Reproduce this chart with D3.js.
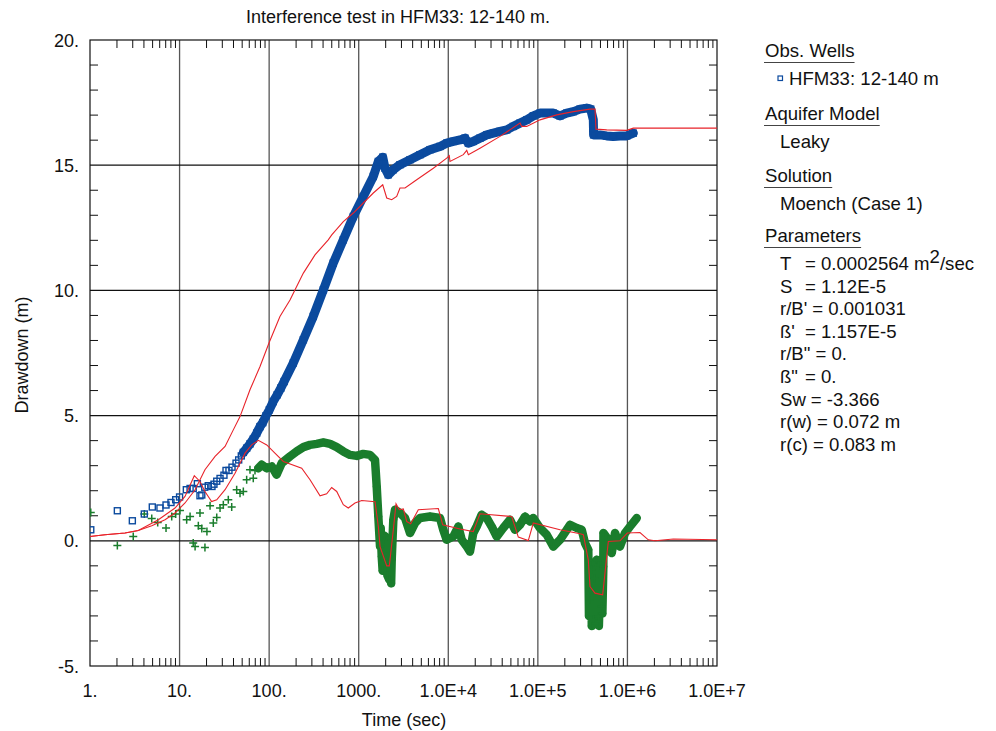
<!DOCTYPE html>
<html><head><meta charset="utf-8">
<script src="https://cdn.jsdelivr.net/npm/d3@7"></script>
<style>
html,body{margin:0;padding:0;background:#fff;}
svg{display:block;font-family:"Liberation Sans",Arial,sans-serif;}
</style></head>
<body>
<svg id="chart" width="996" height="731"></svg>
<script>
// ---------- DATA ----------
const title = "Interference test in HFM33: 12-140 m.";
const xLabel = "Time (sec)";
const yLabel = "Drawdown (m)";
const xTicks = [1, 10, 100, 1000, 1e4, 1e5, 1e6, 1e7];
const xTickLabels = ["1.", "10.", "100.", "1000.", "1.0E+4", "1.0E+5", "1.0E+6", "1.0E+7"];
const yTicks = [-5, 0, 5, 10, 15, 20];
const yTickLabels = ["-5.", "0.", "5.", "10.", "15.", "20."];

// observed drawdown (blue squares)
const obsTime = [1.02,2.02,2.97,4.04,4.96,6.04,7.06,8.02,9.05,10.0,11.9,13.1,14.2,15.8,16.9,17.7,19.1,20.9,23.0,24.2,26.0,28.3,31.3,33.0,35.6,38.5,42.7,45.7,48.9,51.5,56.1,61.1,66.5,72.6,79.1,84.8,92.2,100.5,111,123,135,147,186,241,311,403,520,673,871,1125,1455,1656,1854,1967,2140,2434,2890,3740,4830,6250,8090,9600,11380,13520,15380,16750,19020,22590,26850,31840,37780,44870,53210,63210,75150,88950,105700,125600,148900,176700,209900,248900,295800,350900,389000,416000,419000,494000,587000,695000,826000,982000,1164000];
const obsDraw = [0.44,1.20,0.80,1.07,1.35,1.31,1.43,1.53,1.64,1.75,2.04,2.09,2.09,2.28,1.80,1.83,2.14,2.20,2.17,2.26,2.38,2.49,2.62,2.81,2.81,2.94,3.10,3.23,3.39,3.53,3.70,3.87,4.06,4.30,4.56,4.72,4.99,5.23,5.56,5.83,6.10,6.36,7.10,8.03,8.96,10.02,11.09,12.02,12.95,13.75,14.55,15.15,15.32,14.88,14.62,14.82,15.02,15.22,15.42,15.62,15.75,15.88,15.95,16.01,16.08,15.88,15.95,16.08,16.21,16.28,16.35,16.41,16.55,16.68,16.81,16.97,17.08,17.08,17.08,16.97,17.08,17.14,17.24,17.28,17.24,16.81,16.21,16.21,16.17,16.15,16.17,16.17,16.28];

// observed derivative (green plus)
const derTime = [1.02,2.02,3.04,4.04,4.89,5.70,7.06,8.17,9.05,10.1,12.0,13.1,14.2,14.9,16.2,16.9,17.7,19.2,20.2,21.9,23.8,26.0,28.3,30.8,35.0,38.2,43.4,47.3,51.5,56.1,61.1,66.5,69.5,75.7,82.6,94.0,107,121,138,171,203,241,286,340,403,478,568,673,800,950,1125,1337,1521,1588,1656,1730,1760,1807,1850,1883,1950,2055,2100,2198,2250,2300,2335,2434,2543,2890,3289,3740,4250,4830,6250,8090,8790,9600,11380,12940,14130,16070,17470,19020,20750,23600,26850,30530,34750,41110,48870,55590,63210,71910,81700,88950,105700,125600,148900,176700,209900,228600,271600,308800,335900,365600,372000,381900,385000,397000,400000,416000,430000,445000,454000,460000,473000,480000,500000,516000,525000,538000,540000,612000,668000,727000,826000,940000,1069000,1270000];
const derDraw = [1.13,-0.19,0.17,1.07,0.89,0.73,0.51,0.97,1.07,1.21,0.84,0.97,-0.09,-0.23,0.60,1.11,0.49,-0.27,0.37,1.40,0.71,0.93,1.31,1.44,1.64,1.35,2.04,1.90,1.97,2.44,2.84,2.50,2.81,2.90,3.04,2.90,2.97,2.64,3.10,3.37,3.57,3.74,3.83,3.87,3.93,3.87,3.74,3.57,3.43,3.39,3.47,3.43,3.23,2.17,0.97,-0.23,0.50,-0.63,-1.20,0.04,0.20,-0.89,-1.40,-1.56,-0.50,-1.70,-0.76,0.84,1.24,1.11,0.91,0.31,0.71,0.91,0.97,0.91,0.44,0.04,0.17,0.57,0.04,-0.23,-0.43,0.31,0.57,1.04,0.91,0.57,0.17,0.51,0.84,0.44,0.64,0.97,0.77,0.91,0.51,0.24,-0.23,0.04,0.44,0.64,0.51,0.44,-0.09,-0.36,-3.00,-2.36,-1.00,-1.16,-3.40,-3.15,-1.50,-3.30,-0.76,-0.80,-3.02,-3.40,-1.00,-2.62,-2.90,-1.03,0.31,0.04,-0.49,0.31,-0.23,0.31,0.57,0.91];

// model drawdown (red line)
const modTime = [1,1.47,2.46,3.46,4.89,6.88,8.89,11.5,14.9,19.2,24.9,32.2,39.8,47.3,61.1,79.1,99.6,132,171,194,241,325,457,500,673,871,1125,1455,1854,2055,2335,2655,2890,3289,4440,6810,9600,10260,10450,14720,16070,16750,22590,37780,63210,66070,75150,105700,162300,248900,381900,434700,445700,587000,982000,1164000,1e7];
const modDraw = [0.17,0.24,0.31,0.41,0.60,0.84,1.11,1.51,2.04,2.84,3.37,3.77,4.43,4.96,6.03,6.96,7.90,8.96,9.62,10.02,10.69,11.42,12.02,12.22,12.75,13.09,13.49,13.89,14.22,13.69,13.62,13.75,14.09,14.09,14.42,14.88,15.28,15.38,15.15,15.42,15.59,15.42,15.68,16.15,16.68,16.55,16.55,16.81,17.01,17.14,17.24,17.24,16.44,16.41,16.39,16.48,16.48];

// model derivative (red line)
const mdTime = [1,1.47,2.46,3.46,5.80,8.89,11.5,14.6,16.9,19.2,22.8,26.0,32.2,41.6,53.8,63.8,75.7,94.0,116,144,231,286,370,439,499,568,673,765,909,1080,1521,1656,1730,2055,2198,2434,2609,2840,3148,3436,3804,4627,7740,8670,13520,19020,22590,51050,60510,78200,88950,176700,295800,322100,365600,381900,434700,529600,587000,612000,826000,997600,1380000,1710000,2033000,3251000,1e7];
const mdDraw = [0.17,0.24,0.31,0.41,0.84,1.31,1.77,2.60,2.37,1.97,1.57,1.64,2.04,2.70,3.50,3.83,4.01,3.83,3.50,3.17,2.90,2.44,1.80,1.88,2.13,1.97,1.44,1.31,1.51,1.61,1.56,0.57,-0.23,-1.00,-1.00,0.44,1.48,1.24,1.27,0.77,0.68,1.24,1.29,0.64,0.47,0.37,1.08,0.97,0.15,0.01,0.71,0.44,0.28,0.24,-0.76,-1.83,-2.09,-2.16,-0.63,-0.03,0.0,0.31,0.33,0.04,0.0,0.07,0.04];

// legend
const wellName = "HFM33: 12-140 m";
const aquiferModel = "Leaky";
const solution = "Moench (Case 1)";
const paramNames = ["T", "S", "r/B'", "ß'", "r/B\"", "ß\"", "Sw", "r(w)", "r(c)"];
const paramValues = ["= 0.0002564 m", "= 1.12E-5", "= 0.001031", "= 1.157E-5", "= 0.", "= 0.", "= -3.366", "= 0.072 m", "= 0.083 m"];

// ---------- DRAW ----------
const W = 996, H = 731;
const m = {left: 90, top: 40, right: 279, bottom: 65};
const pw = W - m.left - m.right, ph = H - m.top - m.bottom;
const BLUE = "#0b4a9e", GREEN = "#1a7d2c", RED = "#e8232a";
const FS = 18, LFS = 18.6;

const svg = d3.select("#chart");
const x = d3.scaleLog().domain([1, 1e7]).range([m.left, m.left + pw]);
const y = d3.scaleLinear().domain([-5, 20]).range([m.top + ph, m.top]);

const g = svg.append("g");

svg.append("defs").append("clipPath").attr("id", "clip")
  .append("rect").attr("x", m.left).attr("y", m.top).attr("width", pw).attr("height", ph);

// grid
g.selectAll("line.vg").data(xTicks.slice(1, -1)).join("line")
  .attr("x1", d => x(d)).attr("x2", d => x(d))
  .attr("y1", m.top).attr("y2", m.top + ph)
  .attr("stroke", "#555").attr("stroke-width", 1.3);
g.selectAll("line.hg").data(yTicks.slice(1, -1)).join("line")
  .attr("y1", d => y(d)).attr("y2", d => y(d))
  .attr("x1", m.left).attr("x2", m.left + pw)
  .attr("stroke", "#111").attr("stroke-width", 1.3);

// minor ticks
const minorX = [];
for (let e = 0; e < 7; e++) for (let k = 2; k <= 9; k++) minorX.push(k * Math.pow(10, e));
const tl = 8;
g.selectAll("line.mxb").data(minorX).join("line")
  .attr("x1", d => x(d)).attr("x2", d => x(d))
  .attr("y1", m.top + ph).attr("y2", m.top + ph - tl).attr("stroke", "#111").attr("stroke-width", 1);
g.selectAll("line.mxt").data(minorX).join("line")
  .attr("x1", d => x(d)).attr("x2", d => x(d))
  .attr("y1", m.top).attr("y2", m.top + tl).attr("stroke", "#111").attr("stroke-width", 1);
const minorY = d3.range(-4, 20).filter(v => v % 5 !== 0);
g.selectAll("line.myl").data(minorY).join("line")
  .attr("y1", d => y(d)).attr("y2", d => y(d))
  .attr("x1", m.left).attr("x2", m.left + tl).attr("stroke", "#111").attr("stroke-width", 1);
g.selectAll("line.myr").data(minorY).join("line")
  .attr("y1", d => y(d)).attr("y2", d => y(d))
  .attr("x1", m.left + pw).attr("x2", m.left + pw - tl).attr("stroke", "#111").attr("stroke-width", 1);

// frame
g.append("rect").attr("x", m.left).attr("y", m.top).attr("width", pw).attr("height", ph)
  .attr("fill", "none").attr("stroke", "#111").attr("stroke-width", 1.2);

// tick labels
g.selectAll("text.xl").data(xTicks).join("text")
  .attr("x", d => x(d)).attr("y", m.top + ph + 31)
  .attr("text-anchor", "middle").attr("font-size", FS).attr("fill", "#111")
  .text((d, i) => xTickLabels[i]);
g.selectAll("text.yl").data(yTicks).join("text")
  .attr("x", m.left - 11).attr("y", d => y(d) + 6.5)
  .attr("text-anchor", "end").attr("font-size", FS).attr("fill", "#111")
  .text((d, i) => yTickLabels[i]);

// titles
svg.append("text").attr("x", 398).attr("y", 23).attr("text-anchor", "middle")
  .attr("font-size", FS).attr("fill", "#111").text(title);
svg.append("text").attr("x", 404).attr("y", 726).attr("text-anchor", "middle")
  .attr("font-size", FS).attr("fill", "#111").text(xLabel);
svg.append("text").attr("transform", "translate(28,355) rotate(-90)").attr("text-anchor", "middle")
  .attr("font-size", FS).attr("fill", "#111").text(yLabel);

// data layer
const plot = svg.append("g").attr("clip-path", "url(#clip)");
const obs = obsTime.map((t, i) => ({t, s: obsDraw[i]}));
const der = derTime.map((t, i) => ({t, s: derDraw[i]}));
const mod = modTime.map((t, i) => ({t, s: modDraw[i]}));
const md = mdTime.map((t, i) => ({t, s: mdDraw[i]}));
const line = d3.line().x(d => x(d.t)).y(d => y(d.s));

// dense observation runs (overlapping markers form continuous bands)
plot.append("path").datum(der.filter(d => d.t >= 75))
  .attr("d", line).attr("fill", "none").attr("stroke", GREEN)
  .attr("stroke-width", 8.5).attr("stroke-linejoin", "round").attr("stroke-linecap", "round");
plot.append("path").datum(obs.filter(d => d.t >= 50))
  .attr("d", line).attr("fill", "none").attr("stroke", BLUE)
  .attr("stroke-width", 9).attr("stroke-linejoin", "round").attr("stroke-linecap", "round");

// green plus markers
const ps = 4;
plot.selectAll("path.plus").data(der).join("path")
  .attr("d", d => `M${x(d.t) - ps},${y(d.s)}H${x(d.t) + ps}M${x(d.t)},${y(d.s) - ps}V${y(d.s) + ps}`)
  .attr("stroke", GREEN).attr("stroke-width", 1.5).attr("fill", "none");

// blue square markers
const sq = 6;
plot.selectAll("rect.sq").data(obs).join("rect")
  .attr("x", d => x(d.t) - sq / 2).attr("y", d => y(d.s) - sq / 2)
  .attr("width", sq).attr("height", sq)
  .attr("fill", "none").attr("stroke", BLUE).attr("stroke-width", 1.4);

// model curves
plot.append("path").datum(mod).attr("d", line).attr("fill", "none")
  .attr("stroke", RED).attr("stroke-width", 1.1);
plot.append("path").datum(md).attr("d", line).attr("fill", "none")
  .attr("stroke", RED).attr("stroke-width", 1.1);

// ---------- LEGEND ----------
const L = svg.append("g").attr("font-size", LFS).attr("fill", "#111");
function header(txt, yy) {
  const t = L.append("text").attr("x", 765).attr("y", yy).text(txt);
  const w = t.node().getComputedTextLength();
  L.append("line").attr("x1", 764).attr("x2", 765 + w).attr("y1", yy + 5.5).attr("y2", yy + 5.5)
    .attr("stroke", "#444").attr("stroke-width", 1);
}
header("Obs. Wells", 57);
L.append("rect").attr("x", 778).attr("y", 76).attr("width", 4.5).attr("height", 4.5)
  .attr("fill", "none").attr("stroke", BLUE).attr("stroke-width", 1.2);
L.append("text").attr("x", 789).attr("y", 85).text(wellName);
header("Aquifer Model", 120);
L.append("text").attr("x", 780).attr("y", 148).text(aquiferModel);
header("Solution", 182);
L.append("text").attr("x", 780).attr("y", 210).text(solution);
header("Parameters", 242);
paramNames.forEach((n, i) => {
  const yy = 270 + i * 22.6;
  const t = L.append("text").attr("x", 780).attr("y", yy).text(n);
  const w = t.node().getComputedTextLength();
  const vx = Math.max(805, 780 + w + 5);
  const v = L.append("text").attr("x", vx).attr("y", yy).text(paramValues[i]);
  if (i === 0) {
    v.append("tspan").attr("dy", -7).attr("font-size", LFS).text("2");
    v.append("tspan").attr("dy", 7).text("/sec");
  }
});
</script>
</body></html>
